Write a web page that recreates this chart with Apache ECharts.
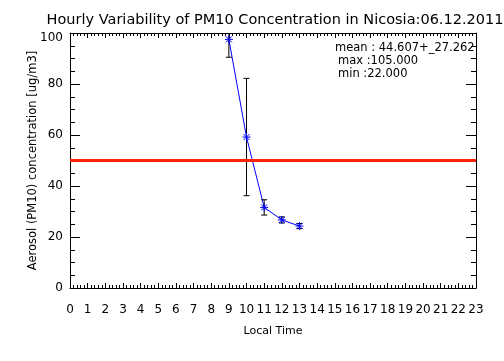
<!DOCTYPE html>
<html><head><meta charset="utf-8">
<script src="https://cdn.jsdelivr.net/npm/echarts@6/dist/echarts.min.js"></script>
<style>html,body{margin:0;padding:0;background:#fff}#c{width:504px;height:361px}</style>
</head><body><div id="c"></div>
<script>
const hours = [9, 10, 11, 12, 13];
const means = [97.5, 59.2, 31.6, 26.7, 24.3];
const sds = [7.0, 23.0, 3.0, 1.2, 1.0];
const xTicks = [0, 23, 1];
const xMinorStep = 0.2;
const yTicks = [0, 100, 20];
const yMinorStep = 5;
const threshold = 50;
const titleText = 'Hourly Variability of PM10 Concentration in Nicosia:06.12.2011';
const statLines = ['mean : 44.607+_27.262', 'max :105.000', 'min :22.000'];

const F = 'DejaVu Sans';
const chart = echarts.init(document.getElementById('c'), null, {renderer: 'canvas'});
const blackLine = {color: '#000', width: 1};

function xAx(pos, step, len, labels, line) {
  const o = {type: 'value', min: xTicks[0], max: xTicks[1], interval: step, position: pos,
    axisLine: {show: line, onZero: false, lineStyle: blackLine},
    axisTick: {show: true, inside: true, length: len, lineStyle: {color: '#000'}},
    splitLine: {show: false}, nameMoveOverlap: false,
    axisLabel: labels ? {margin: 16, fontFamily: F, fontSize: 12, color: '#000'} : {show: false}};
  if (labels) {
    o.name = 'Local Time'; o.nameLocation = 'middle'; o.nameGap = 38;
    o.nameTextStyle = {fontFamily: F, fontSize: 11, color: '#000'};
  }
  return o;
}
function yAx(pos, step, len, labels, line) {
  const o = {type: 'value', min: yTicks[0], max: yTicks[1], interval: step, position: pos,
    axisLine: {show: line, onZero: false, lineStyle: blackLine},
    axisTick: {show: true, inside: true, length: len, lineStyle: {color: '#000'}},
    splitLine: {show: false}, nameMoveOverlap: false,
    axisLabel: labels ? {margin: 7, fontFamily: F, fontSize: 12, color: '#000',
      formatter: v => v === yTicks[1] ? '{top|' + v + '}' : String(v),
      rich: {top: {fontFamily: F, fontSize: 12, color: '#000', padding: [10, 0, 0, 0]}}} : {show: false}};
  if (labels) {
    o.name = 'Aerosol (PM10) concentration [ug/m3]'; o.nameLocation = 'middle'; o.nameGap = 31;
    o.nameRotate = 90; o.nameTextStyle = {fontFamily: F, fontSize: 11.5, color: '#000'};
  }
  return o;
}
const lineData = hours.map((h, i) => [h, means[i]]);
const errData = hours.map((h, i) => [h, means[i], sds[i]]);

chart.setOption({
  animation: false,
  backgroundColor: '#fff',
  grid: {left: 70, right: 28, top: 33, bottom: 73, containLabel: false},
  title: {text: titleText, left: 270, top: 8, textAlign: 'center',
    textStyle: {fontFamily: F, fontSize: 14.5, fontWeight: 'normal', color: '#000'}},
  xAxis: [
    xAx('bottom', xTicks[2], 5, true, true),
    xAx('top', xTicks[2], 5, false, true),
    xAx('bottom', xMinorStep, 3, false, false),
    xAx('top', xMinorStep, 3, false, false)
  ],
  yAxis: [
    yAx('left', yTicks[2], 10, true, true),
    yAx('right', yTicks[2], 10, false, true),
    yAx('left', yMinorStep, 5, false, false),
    yAx('right', yMinorStep, 5, false, false)
  ],
  series: [
    {type: 'line', data: lineData, showSymbol: false, symbol: 'none',
      lineStyle: {color: '#0000ff', width: 1}, z: 3,
      markLine: {silent: true, symbol: 'none', label: {show: false},
        lineStyle: {color: '#ff2200', width: 3, type: 'solid'},
        data: [{yAxis: threshold}]}},
    {type: 'custom', data: errData, clip: true, z: 4,
      renderItem: function (params, api) {
        const x = api.value(0), m = api.value(1), s = api.value(2);
        const c = api.coord([x, m]);
        const t = api.coord([x, m + s]);
        const b = api.coord([x, m - s]);
        const cw = 3, r = 4, d = 3;
        const blk = {stroke: '#000', lineWidth: 1};
        const blu = {stroke: '#0000ff', lineWidth: 1};
        return {type: 'group', children: [
          {type: 'line', shape: {x1: c[0], y1: t[1], x2: c[0], y2: b[1]}, style: blk},
          {type: 'line', shape: {x1: c[0] - cw, y1: t[1], x2: c[0] + cw, y2: t[1]}, style: blk},
          {type: 'line', shape: {x1: c[0] - cw, y1: b[1], x2: c[0] + cw, y2: b[1]}, style: blk},
          {type: 'line', shape: {x1: c[0] - r, y1: c[1], x2: c[0] + r, y2: c[1]}, style: blu},
          {type: 'line', shape: {x1: c[0], y1: c[1] - r, x2: c[0], y2: c[1] + r}, style: blu},
          {type: 'line', shape: {x1: c[0] - d, y1: c[1] - d, x2: c[0] + d, y2: c[1] + d}, style: blu},
          {type: 'line', shape: {x1: c[0] - d, y1: c[1] + d, x2: c[0] + d, y2: c[1] - d}, style: blu}
        ]};
      }}
  ],
  graphic: statLines.map((t, i) => ({
    type: 'text', left: i === 0 ? 335 : 338, top: 42 + i * 13,
    style: {text: t, fontFamily: F, fontSize: 11.5, fill: '#000'}
  }))
});
</script></body></html>
